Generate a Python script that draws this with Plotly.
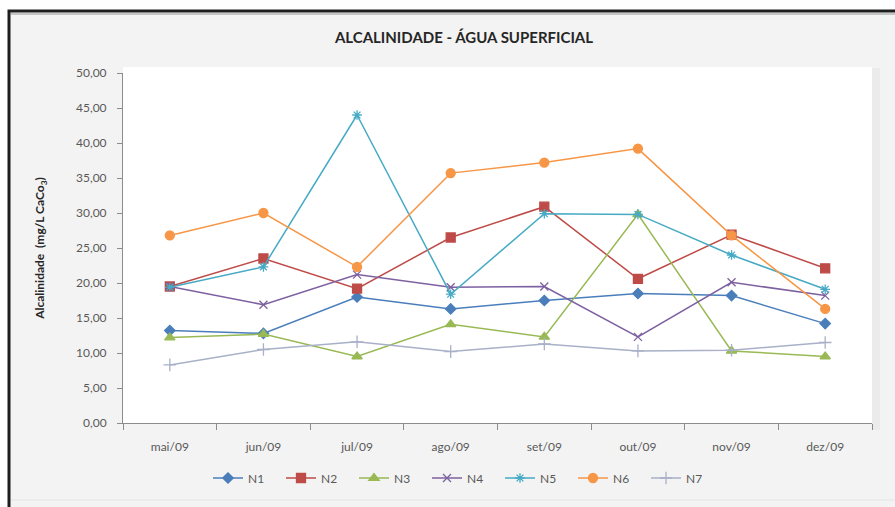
import plotly.graph_objects as go

# Monthly alkalinity readings at the seven surface-water points
meses = ["mai/09", "jun/09", "jul/09", "ago/09", "set/09", "out/09", "nov/09", "dez/09"]
N1 = [13.2, 12.8, 18.0, 16.3, 17.5, 18.5, 18.2, 14.2]
N2 = [19.5, 23.5, 19.2, 26.5, 30.9, 20.6, 26.9, 22.1]
N3 = [12.2, 12.7, 9.5, 14.1, 12.3, 29.8, 10.3, 9.5]
N4 = [19.5, 16.9, 21.2, 19.4, 19.5, 12.3, 20.1, 18.2]
N5 = [19.4, 22.3, 44.0, 18.4, 29.9, 29.8, 24.0, 19.1]
N6 = [26.8, 30.0, 22.3, 35.7, 37.2, 39.2, 26.8, 16.3]
N7 = [8.3, 10.5, 11.6, 10.2, 11.3, 10.3, 10.4, 11.5]

y_ticks = [0, 5, 10, 15, 20, 25, 30, 35, 40, 45, 50]
y_tick_text = [("%.2f" % v).replace(".", ",") for v in y_ticks]

series = [
    ("N1", N1, "#4a7ebb", "diamond", 8),
    ("N2", N2, "#be4b48", "square", 9),
    ("N3", N3, "#98b954", "triangle-up", 9),
    ("N4", N4, "#7d60a0", "x-thin-open", 8),
    ("N5", N5, "#46aac5", "asterisk-open", 8),
    ("N6", N6, "#f79646", "circle", 9),
    ("N7", N7, "#a9b0c8", "cross-thin-open", 9),
]

W, H = 895, 507
L, R, T, B = 123, 872, 73, 423  # plot area in pixels


def px(x):
    return (x - L) / (R - L)


def py(y):
    return (B - y) / (B - T)


fig = go.Figure()
for name, vals, color, symbol, size in series:
    fig.add_trace(go.Scatter(
        x=meses, y=vals, name=name, mode="lines+markers",
        line=dict(color=color, width=1.5),
        marker=dict(symbol=symbol, size=size, color=color,
                    line=dict(color=color, width=1.3)),
    ))

shapes = [
    # chart area with dark frame on top/left
    dict(type="rect", xref="paper", yref="paper",
         x0=px(9), x1=px(905), y0=py(11), y1=py(520),
         fillcolor="#f3f3f3", line=dict(color="#1e1e1e", width=3), layer="below"),
    dict(type="line", xref="paper", yref="paper",
         x0=px(11), x1=px(900), y0=py(14), y1=py(14),
         line=dict(color="#c4c4c4", width=2), layer="below"),
    dict(type="line", xref="paper", yref="paper",
         x0=px(11), x1=px(900), y0=py(500), y1=py(500),
         line=dict(color="#e4e4e4", width=1), layer="below"),
    # right-hand shading next to plot area
    dict(type="rect", xref="paper", yref="paper",
         x0=px(872), x1=px(880), y0=py(68), y1=py(430),
         fillcolor="#ebebeb", line=dict(width=0), layer="below"),
    # white plot area
    dict(type="rect", xref="paper", yref="paper",
         x0=px(123), x1=px(872), y0=py(67), y1=py(423),
         fillcolor="white", line=dict(width=0), layer="below"),
]

fig.update_layout(
    width=W, height=H,
    margin=dict(l=L, r=W - R, t=T, b=H - B),
    paper_bgcolor="white",
    plot_bgcolor="rgba(0,0,0,0)",
    font=dict(family="Lato, 'Open Sans', sans-serif", size=12, color="#595959"),
    title=dict(text="<b>ALCALINIDADE - ÁGUA SUPERFICIAL</b>",
               x=px(464), xref="paper", xanchor="center",
               y=1 - 38 / H, yanchor="middle",
               font=dict(size=15, color="#262626")),
    shapes=shapes,
    showlegend=True,
    legend=dict(orientation="h", x=px(208), xanchor="left",
                y=py(478), yanchor="middle",
                font=dict(size=12, color="#595959"),
                bgcolor="rgba(0,0,0,0)", itemwidth=30,
                entrywidth=28, entrywidthmode="pixels",
                tracegroupgap=0),
    xaxis=dict(
        type="category", range=[-0.5, 7.5],
        showline=True, linecolor="#8c8c8c", linewidth=1,
        ticks="outside", ticklen=6, tickcolor="#8c8c8c",
        tickson="boundaries", showgrid=False, zeroline=False,
        ticklabelstandoff=13,
        tickfont=dict(size=12, color="#595959"),
    ),
    yaxis=dict(
        range=[0, 50], tickvals=y_ticks, ticktext=y_tick_text,
        showline=True, linecolor="#8c8c8c", linewidth=1,
        ticks="outside", ticklen=5, tickcolor="#8c8c8c",
        showgrid=False, zeroline=False,
        ticklabelstandoff=8,
        tickfont=dict(size=12, color="#595959"),
        title=dict(text="<b>Alcalinidade  (mg/L CaCo<sub>3</sub>)</b>",
                   font=dict(size=12, color="#262626"), standoff=28),
    ),
)

fig.write_html("out.html")
